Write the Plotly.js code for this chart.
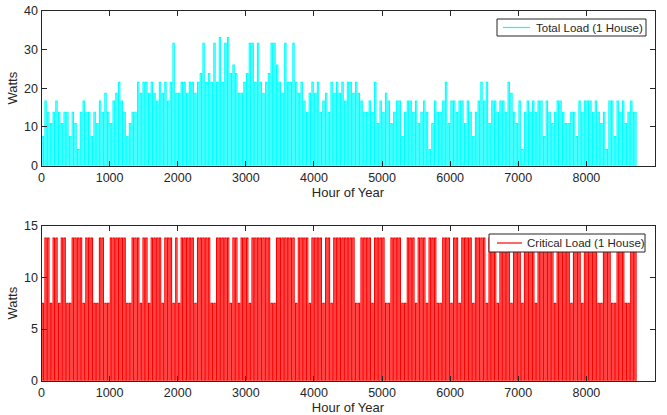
<!DOCTYPE html>
<html>
<head>
<meta charset="utf-8">
<script src="https://cdn.plot.ly/plotly-3.0.1.min.js"></script>
<style>
html,body{margin:0;padding:0;background:#fff;}
#chart{width:667px;height:415px;}
</style>
</head>
<body>
<div id="chart"></div>
<script>
// Hours are sampled every 20 h (one sample per ~1.4 px of plot width)
const sampleStep = 20;

// Total load (W), 1 house (400-hour blocks per row)
const totalLoad = [
  0,7.5,0,16.7,0,13.8,0,10.9,0,13.8,0,16.7,0,13.8,0,10.9,0,13.8,0,13.8,
  0,7.5,0,13.8,0,10.9,0,4.2,0,13.8,0,16.7,0,13.8,0,13.8,0,7.5,0,13.8,
  0,10.9,0,16.7,0,13.8,0,18.7,0,13.8,0,10.9,0,16.7,0,18.7,0,21.5,0,16.7,
  0,13.8,0,7.5,0,10.9,0,13.8,0,13.8,0,21.5,0,18.7,0,21.5,0,21.5,0,18.7,
  0,21.5,0,18.7,0,16.7,0,21.5,0,18.7,0,21.5,0,16.7,0,21.5,0,31.6,0,18.7,
  0,18.7,0,21.5,0,21.5,0,18.7,0,21.5,0,21.5,0,18.7,0,21.5,0,23.8,0,31.6,
  0,21.5,0,23.8,0,21.5,0,31.6,0,21.5,0,33.1,0,21.5,0,31.6,0,33.1,0,23.8,
  0,26,0,23.8,0,18.7,0,18.7,0,21.5,0,23.8,0,31.6,0,31.6,0,21.5,0,31.6,
  0,21.5,0,18.7,0,21.5,0,23.8,0,31.6,0,31.6,0,26,0,21.5,0,18.7,0,31.6,
  0,21.5,0,21.5,0,31.6,0,21.5,0,18.7,0,21.5,0,16.7,0,13.8,0,18.7,0,21.5,
  0,18.7,0,21.5,0,13.8,0,16.7,0,18.7,0,13.8,0,21.5,0,18.7,0,21.5,0,18.7,
  0,21.5,0,16.7,0,21.5,0,21.5,0,18.7,0,21.5,0,18.7,0,16.7,0,13.8,0,13.8,
  0,16.7,0,13.8,0,21.5,0,10.9,0,16.7,0,13.8,0,18.7,0,16.7,0,10.9,0,13.8,
  0,16.7,0,16.7,0,7.5,0,13.8,0,16.7,0,16.7,0,13.8,0,16.7,0,10.9,0,13.8,
  0,16.7,0,13.8,0,4.2,0,10.9,0,16.7,0,13.8,0,13.8,0,16.7,0,21.5,0,10.9,
  0,16.7,0,16.7,0,13.8,0,16.7,0,16.7,0,10.9,0,16.7,0,13.8,0,7.5,0,13.8,
  0,16.7,0,21.5,0,16.7,0,21.5,0,10.9,0,16.7,0,16.7,0,13.8,0,16.7,0,16.7,
  0,13.8,0,21.5,0,18.7,0,13.8,0,10.9,0,16.7,0,4.2,0,13.8,0,16.7,0,13.8,
  0,16.7,0,13.8,0,16.7,0,16.7,0,7.5,0,16.7,0,13.8,0,10.9,0,13.8,0,16.7,
  0,16.7,0,13.8,0,10.9,0,10.9,0,13.8,0,13.8,0,7.5,0,16.7,0,13.8,0,16.7,
  0,16.7,0,16.7,0,13.8,0,16.7,0,13.8,0,10.9,0,13.8,0,4.2,0,16.7,0,16.7,
  0,7.5,0,16.7,0,13.8,0,16.7,0,10.9,0,13.8,0,16.7,0,13.8,0,13.8
];

// Critical load (W), 1 house
const criticalLoad = [
  0,7.5,0,13.8,0,13.8,0,7.5,0,13.8,0,13.8,0,7.5,0,13.8,0,13.8,0,7.5,
  0,7.5,0,13.8,0,13.8,0,13.8,0,13.8,0,7.5,0,13.8,0,13.8,0,13.8,0,7.5,
  0,7.5,0,13.8,0,13.8,0,7.5,0,7.5,0,13.8,0,13.8,0,13.8,0,13.8,0,13.8,
  0,13.8,0,7.5,0,7.5,0,13.8,0,13.8,0,13.8,0,7.5,0,13.8,0,13.8,0,7.5,
  0,13.8,0,13.8,0,13.8,0,13.8,0,7.5,0,13.8,0,13.8,0,13.8,0,7.5,0,13.8,
  0,7.5,0,13.8,0,13.8,0,13.8,0,13.8,0,13.8,0,7.5,0,13.8,0,13.8,0,13.8,
  0,13.8,0,13.8,0,7.5,0,7.5,0,13.8,0,13.8,0,13.8,0,13.8,0,13.8,0,7.5,
  0,13.8,0,13.8,0,7.5,0,13.8,0,13.8,0,13.8,0,7.5,0,13.8,0,13.8,0,13.8,
  0,13.8,0,13.8,0,13.8,0,13.8,0,7.5,0,7.5,0,13.8,0,13.8,0,13.8,0,13.8,
  0,13.8,0,13.8,0,13.8,0,7.5,0,13.8,0,13.8,0,13.8,0,13.8,0,7.5,0,13.8,
  0,13.8,0,13.8,0,13.8,0,7.5,0,13.8,0,13.8,0,7.5,0,13.8,0,13.8,0,13.8,
  0,13.8,0,13.8,0,13.8,0,13.8,0,13.8,0,7.5,0,7.5,0,13.8,0,13.8,0,13.8,
  0,13.8,0,7.5,0,13.8,0,13.8,0,13.8,0,13.8,0,7.5,0,7.5,0,13.8,0,13.8,
  0,13.8,0,13.8,0,7.5,0,7.5,0,13.8,0,13.8,0,13.8,0,7.5,0,13.8,0,13.8,
  0,13.8,0,7.5,0,13.8,0,13.8,0,13.8,0,7.5,0,7.5,0,13.8,0,13.8,0,13.8,
  0,7.5,0,13.8,0,13.8,0,7.5,0,13.8,0,13.8,0,13.8,0,13.8,0,7.5,0,13.8,
  0,13.8,0,13.8,0,13.8,0,7.5,0,13.8,0,13.8,0,13.8,0,7.5,0,13.8,0,13.8,
  0,13.8,0,13.8,0,7.5,0,13.8,0,13.8,0,13.8,0,7.5,0,13.8,0,13.8,0,13.8,
  0,13.8,0,7.5,0,13.8,0,13.8,0,13.8,0,13.8,0,13.8,0,13.8,0,7.5,0,13.8,
  0,13.8,0,13.8,0,13.8,0,13.8,0,7.5,0,13.8,0,13.8,0,13.8,0,7.5,0,13.8,
  0,13.8,0,13.8,0,13.8,0,13.8,0,7.5,0,7.5,0,13.8,0,13.8,0,13.8,0,7.5,
  0,7.5,0,13.8,0,13.8,0,13.8,0,7.5,0,7.5,0,13.8,0,13.8,0,13.8
];

const hours = totalLoad.map((_, i) => i * sampleStep);
const hoursCrit = criticalLoad.map((_, i) => i * sampleStep);

const xTicks = [0,1000,2000,3000,4000,5000,6000,7000,8000,9000];
const yTicksTop = [0,10,20,30,40];
const yTicksBottom = [0,5,10,15];
const seriesNames = ['Total Load (1 House)', 'Critical Load (1 House)'];
const seriesColors = ['#00FFFF', '#FF0000'];
const xTitle = 'Hour of Year';
const yTitle = 'Watts';

const FONT = '"Liberation Sans", Arial, Helvetica, sans-serif';
const AX = '#262626';
const W = 667, H = 415;
const px = v => v / W;          // pixel -> paper x
const py = v => 1 - v / H;      // pixel -> paper y

const traces = [
  {x: hours, y: totalLoad, type: 'scatter', mode: 'lines', name: seriesNames[0],
   line: {color: seriesColors[0], width: 1.1, shape: 'hvh'}, xaxis: 'x', yaxis: 'y', showlegend: false},
  {x: hoursCrit, y: criticalLoad, type: 'scatter', mode: 'lines', name: seriesNames[1],
   line: {color: seriesColors[1], width: 1.1, shape: 'hvh'}, xaxis: 'x2', yaxis: 'y2', showlegend: false}
];

function xAxis(anchor, domain) {
  return {
    domain: domain, anchor: anchor, range: [0, 9000],
    tickvals: xTicks, ticktext: xTicks.map(String),
    ticks: 'inside', ticklen: 5, tickwidth: 1, tickcolor: AX,
    showline: true, linecolor: AX, linewidth: 1, mirror: 'ticks',
    showgrid: false, zeroline: false,
    tickfont: {family: FONT, size: 12.5, color: AX},
    title: {text: xTitle, font: {family: FONT, size: 13, color: AX}, standoff: 0},
    fixedrange: true
  };
}
function yAxis(anchor, domain, range, ticks) {
  return {
    domain: domain, anchor: anchor, range: range,
    tickvals: ticks, ticktext: ticks.map(String),
    ticks: 'inside', ticklen: 5, tickwidth: 1, tickcolor: AX,
    showline: true, linecolor: AX, linewidth: 1, mirror: 'ticks',
    showgrid: false, zeroline: false,
    tickfont: {family: FONT, size: 12.5, color: AX},
    title: {text: yTitle, font: {family: FONT, size: 13, color: AX}, standoff: 3},
    fixedrange: true
  };
}

// Legend boxes drawn in the MATLAB style (pixel boxes of the reference)
const legends = [
  {box: [497, 19, 646, 36], line: [503, 530], text: 534},
  {box: [489, 234, 645, 252], line: [497, 522], text: 525}
];
const shapes = [];
const annotations = [];
legends.forEach((lg, k) => {
  const [x0, y0, x1, y1] = lg.box;
  const yc = (y0 + y1) / 2;
  shapes.push({type: 'rect', xref: 'paper', yref: 'paper',
    x0: px(x0), x1: px(x1), y0: py(y1), y1: py(y0),
    line: {color: AX, width: 1}, fillcolor: '#fff', layer: 'above'});
  shapes.push({type: 'line', xref: 'paper', yref: 'paper',
    x0: px(lg.line[0]), x1: px(lg.line[1]), y0: py(yc), y1: py(yc),
    line: {color: seriesColors[k], width: 1.2}, layer: 'above'});
  annotations.push({xref: 'paper', yref: 'paper', x: px(lg.text), y: py(yc),
    xanchor: 'left', yanchor: 'middle', showarrow: false, text: seriesNames[k],
    font: {family: FONT, size: 11.5, color: AX}});
});

const layout = {
  width: W, height: H,
  margin: {l: 0, r: 0, t: 0, b: 0, autoexpand: false},
  paper_bgcolor: '#fff', plot_bgcolor: '#fff',
  showlegend: false,
  xaxis: xAxis('y', [px(41.5), px(654.5)]),
  yaxis: yAxis('x', [py(165.7), py(10.7)], [0, 40], yTicksTop),
  xaxis2: xAxis('y2', [px(41.5), px(654.5)]),
  yaxis2: yAxis('x2', [py(380.7), py(225.7)], [0, 15], yTicksBottom),
  shapes: shapes,
  annotations: annotations
};

Plotly.newPlot('chart', traces, layout, {staticPlot: true, displayModeBar: false});
</script>
</body>
</html>
